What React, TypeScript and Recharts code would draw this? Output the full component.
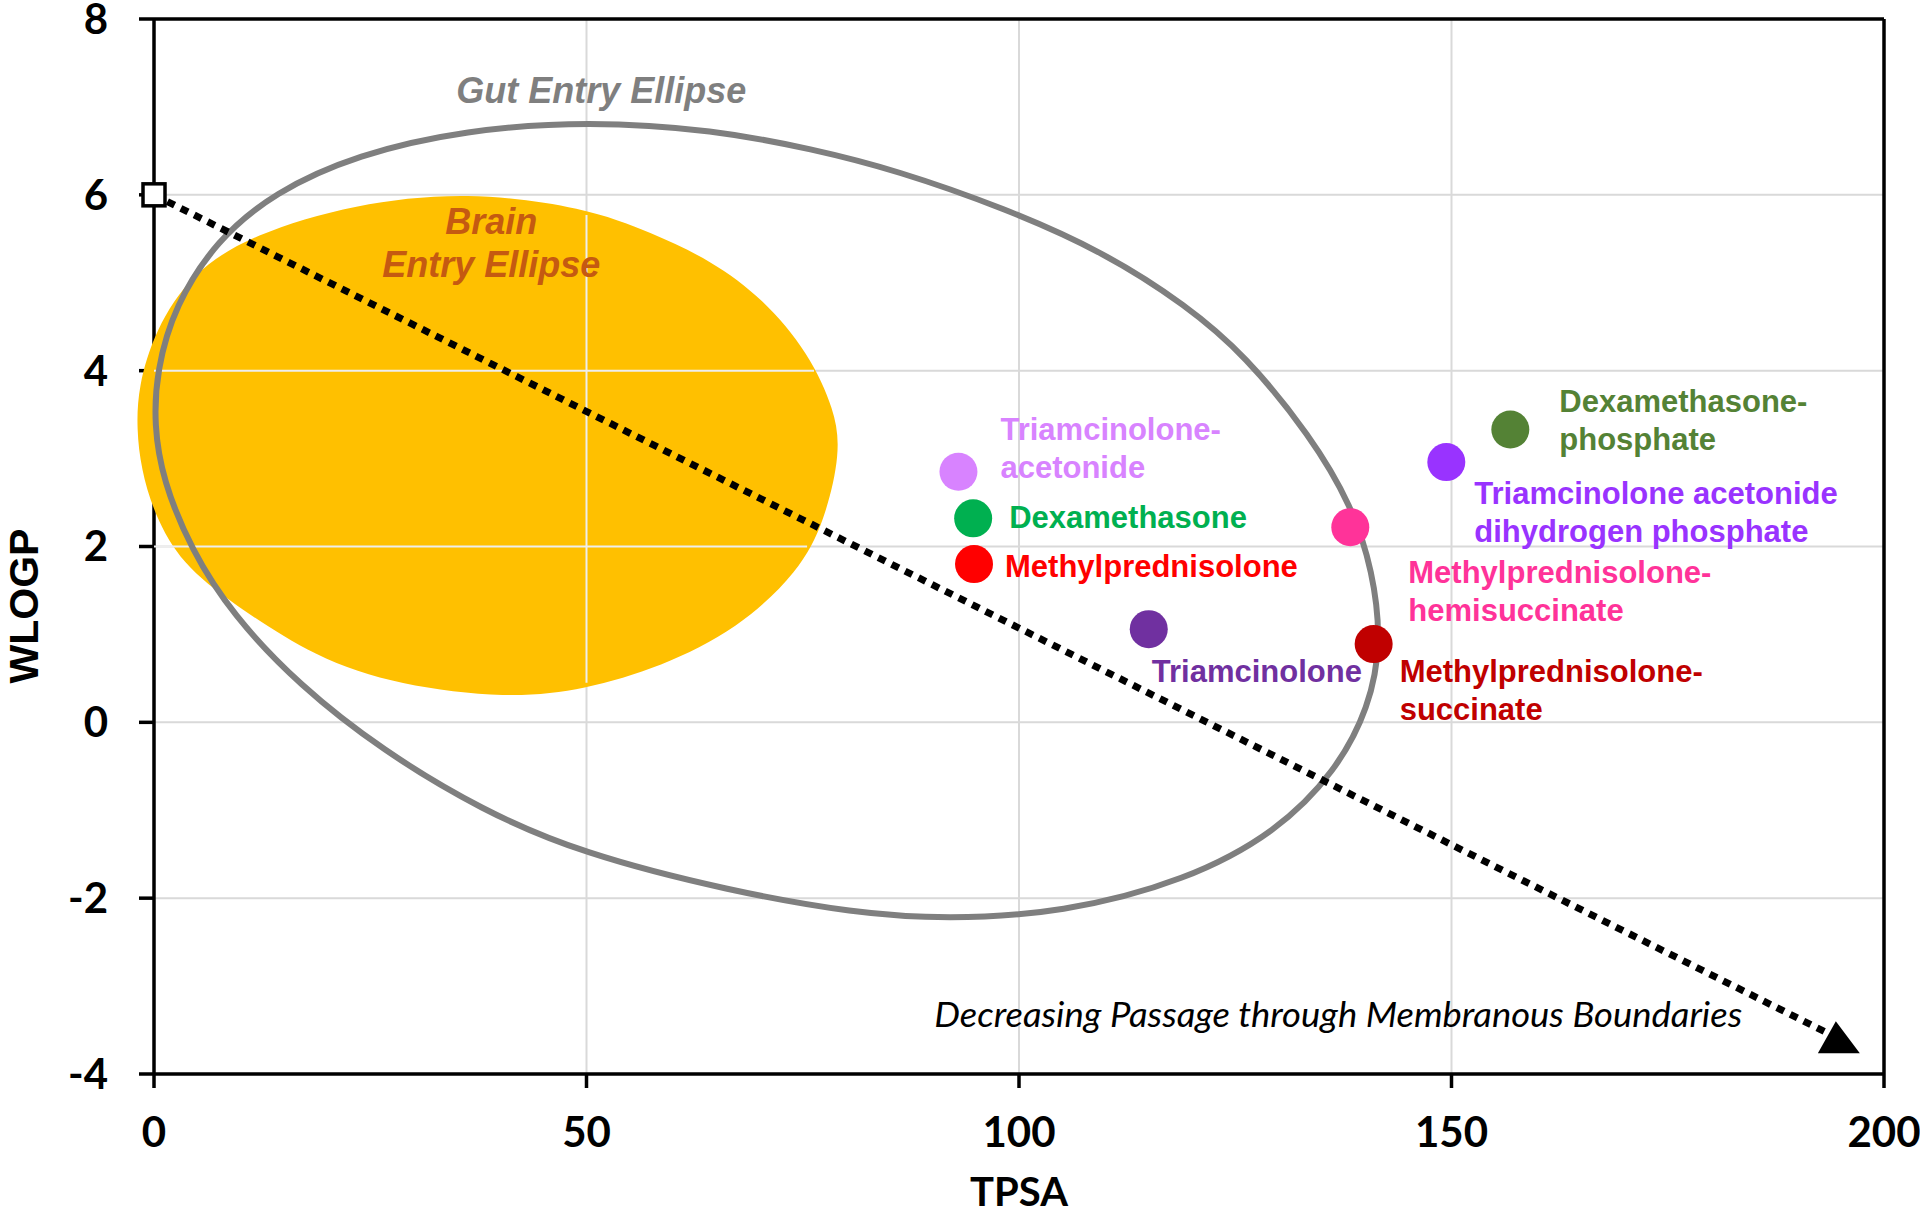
import React from 'react';
import { ScatterChart, Scatter, XAxis, YAxis, CartesianGrid, ReferenceLine } from 'recharts';

// compounds (TPSA vs WLOGP)
const compounds = [
  'Triamcinolone-acetonide',
  'Dexamethasone',
  'Methylprednisolone',
  'Triamcinolone',
  'Methylprednisolone-hemisuccinate',
  'Methylprednisolone-succinate',
  'Dexamethasone-phosphate',
  'Triamcinolone acetonide dihydrogen phosphate',
];
const tpsa = [93.0, 94.7, 94.8, 115.0, 138.3, 141.0, 156.8, 149.4];
const wlogp = [2.85, 2.32, 1.8, 1.06, 2.22, 0.89, 3.33, 2.96];
const colors = ['#D883FF', '#00B050', '#FF0000', '#7030A0', '#FF3399', '#C00000', '#548235', '#9933FF'];
const labelLines = [
  ['Triamcinolone-', 'acetonide'],
  ['Dexamethasone'],
  ['Methylprednisolone'],
  ['Triamcinolone'],
  ['Methylprednisolone-', 'hemisuccinate'],
  ['Methylprednisolone-', 'succinate'],
  ['Dexamethasone-', 'phosphate'],
  ['Triamcinolone acetonide', 'dihydrogen phosphate'],
];
// label offsets from the dot centre, px
const labelDx = [42, 36, 31, 3, 58, 26, 49, 28];
const labelDy = [-32, 10, 13, 53, 56, 38, -18, 42];

// gut entry ellipse outline (hand drawn in the original)
const gutX = [50.3, 64.7, 76.2, 85.8, 98.3, 109.8, 119.4, 126.1, 133.7, 138.5, 140.9, 141.9, 140.5, 136.6, 129.9, 119.4, 105.0, 91.6, 81.0, 66.6, 49.4, 37.9, 26.4, 16.8, 9.1, 4.3, 1.0, 0.0, 0.3, 2.4, 7.2, 13.9, 23.5, 36.0];
const gutY = [6.84, 6.74, 6.52, 6.28, 5.85, 5.35, 4.74, 4.18, 3.26, 2.46, 1.72, 0.91, 0.17, -0.56, -1.24, -1.8, -2.17, -2.24, -2.17, -1.92, -1.49, -1.0, -0.32, 0.42, 1.22, 1.96, 2.76, 3.38, 4.0, 4.74, 5.48, 6.03, 6.46, 6.74];

// brain entry ellipse outline
const brainX = [36.2, 49.8, 57.5, 64.5, 70.4, 75.7, 78.7, 79.4, 77.5, 74.6, 67.5, 58.6, 49.8, 40.9, 28.3, 18.7, 9.1, 3.2, 0.0, -1.5, -2.0, -1.85, 0.1, 4.4, 11.4, 23.2];
const brainY = [6.04, 5.86, 5.57, 5.25, 4.82, 4.2, 3.55, 3.07, 2.28, 1.72, 1.06, 0.63, 0.37, 0.27, 0.42, 0.73, 1.35, 1.8, 2.37, 2.89, 3.33, 3.81, 4.46, 5.12, 5.55, 5.9];

// grid lines seen through the brain ellipse (segment ends)
const gridInX = [[0, 76.3], [0, 75.5], [50, 50]];
const gridInY = [[4, 4], [2, 2], [5.77, 0.45]];

// dotted trend arrow
const arrowX = [0, 194.2];
const arrowY = [6, -3.57];

// free text annotations
const noteText = [['Gut Entry Ellipse'], ['Brain', 'Entry Ellipse'], ['Decreasing Passage through Membranous Boundaries']];
const noteX = [51.7, 39.0, 90.2];
const noteY = [7.04, 5.55, -3.46];

const xTicks = [0, 50, 100, 150, 200];
const yTicks = [-4, -2, 0, 2, 4, 6, 8];

const pointData = compounds.map((name, i) => ({ x: tpsa[i], y: wlogp[i], name, i }));
const gutData = gutX.map((x, i) => ({ x, y: gutY[i] }));
const brainData = brainX.map((x, i) => ({ x, y: brainY[i] }));
const gridInData = gridInX.map((xs, k) => xs.map((x, j) => ({ x, y: gridInY[k][j] })));
const arrowData = arrowX.map((x, i) => ({ x, y: arrowY[i], i }));
const noteData = noteX.map((x, i) => ({ x, y: noteY[i], i }));

const tickFont = { fontSize: 42, fontWeight: 700, fill: '#000', fontFamily: 'Lato, "Open Sans", sans-serif' };
const labelFont: React.CSSProperties = { fontSize: 31, fontWeight: 700, fontFamily: '"Liberation Sans", Arial, sans-serif' };

const Empty = () => <g />;

const PointShape = (props: any) => {
  const { cx, cy, payload } = props;
  const i = payload.i;
  const lx = cx + labelDx[i];
  return (
    <g>
      <circle cx={cx} cy={cy} r={19} fill={colors[i]} />
      <text x={lx} y={cy + labelDy[i]} fill={colors[i]} style={labelFont}>
        {labelLines[i].map((l, k) => (
          <tspan key={k} x={lx} dy={k === 0 ? 0 : 38}>{l}</tspan>
        ))}
      </text>
    </g>
  );
};

const ArrowShape = (props: any) => {
  const { cx, cy, payload } = props;
  if (payload.i === 0) {
    return <rect x={cx - 11} y={cy - 11} width={22} height={22} fill="#fff" stroke="#000" strokeWidth={3.5} />;
  }
  return <path d={`M${cx - 16},${cy + 17} L${cx + 26},${cy + 17} L${cx + 2},${cy - 15} Z`} fill="#000" />;
};

const NoteShape = (props: any) => {
  const { cx, cy, payload } = props;
  const i = payload.i;
  if (i === 2) {
    return (
      <text x={cx} y={cy} textLength={808} lengthAdjust="spacingAndGlyphs"
        style={{ fontSize: 34, fontStyle: 'italic', fontFamily: 'Lato, "Open Sans", sans-serif' }} fill="#000">
        {noteText[i][0]}
      </text>
    );
  }
  const fill = i === 0 ? '#7F7F7F' : '#C55A11';
  return (
    <text x={cx} y={cy} textAnchor="middle" fill={fill}
      style={{ fontSize: 36, fontWeight: 700, fontStyle: 'italic', fontFamily: '"Liberation Sans", Arial, sans-serif' }}>
      {noteText[i].map((l, k) => (
        <tspan key={k} x={cx} dy={k === 0 ? 0 : 43}>{l}</tspan>
      ))}
    </text>
  );
};

export default function App() {
  return (
    <div style={{ position: 'absolute', left: 0, top: 0, background: '#fff' }}>
      <ScatterChart width={1920} height={1216} margin={{ top: 19, right: 36, bottom: 0, left: 0 }}>
        <XAxis
          type="number"
          dataKey="x"
          domain={[0, 200]}
          ticks={xTicks}
          interval={0}
          height={142}
          tick={tickFont}
          tickSize={14}
          tickMargin={29}
          axisLine={{ stroke: '#000', strokeWidth: 3.5 }}
          tickLine={{ stroke: '#000', strokeWidth: 3.5 }}
        />
        <XAxis
          xAxisId="brain"
          type="number"
          dataKey="x"
          domain={[-2, 200]}
          padding={{ left: -17.3, right: 0 }}
          hide
        />
        <YAxis
          type="number"
          dataKey="y"
          domain={[-4, 8]}
          ticks={yTicks}
          interval={0}
          width={154}
          tick={tickFont}
          tickSize={15}
          tickMargin={31}
          axisLine={{ stroke: '#000', strokeWidth: 3.5 }}
          tickLine={{ stroke: '#000', strokeWidth: 3.5 }}
        />
        <CartesianGrid stroke="#D9D9D9" strokeWidth={2} />
        <Scatter
          data={brainData}
          xAxisId="brain"
          shape={Empty}
          line={{ fill: '#FFC000', stroke: 'none' }}
          lineType="joint"
          lineJointType="basisClosed"
          isAnimationActive={false}
        />
        {gridInData.map((seg, k) => (
          <Scatter
            key={'g' + k}
            data={seg}
            shape={Empty}
            line={{ stroke: '#EEEEEE', strokeWidth: 2, fill: 'none' }}
            lineType="joint"
            isAnimationActive={false}
          />
        ))}
        <ReferenceLine y={8} stroke="#000" strokeWidth={3.5} />
        <ReferenceLine x={200} stroke="#000" strokeWidth={3.5} />
        <Scatter
          data={gutData}
          shape={Empty}
          line={{ fill: 'none', stroke: '#7F7F7F', strokeWidth: 6 }}
          lineType="joint"
          lineJointType="basisClosed"
          isAnimationActive={false}
        />
        <Scatter
          data={arrowData}
          shape={ArrowShape}
          line={{ stroke: '#000', strokeWidth: 7, strokeDasharray: '8 7', fill: 'none' }}
          lineType="joint"
          isAnimationActive={false}
        />
        <Scatter data={noteData} shape={NoteShape} isAnimationActive={false} />
        <Scatter data={pointData} shape={PointShape} isAnimationActive={false} />
        <text x={1019} y={1206} textAnchor="middle" style={{ ...tickFont, fontSize: 40 }}>TPSA</text>
        <text transform="translate(38,606) rotate(-90)" textAnchor="middle"
          style={{ fontSize: 41, fontWeight: 700, fill: '#000', fontFamily: '"Liberation Sans", Arial, sans-serif' }}>WLOGP</text>
      </ScatterChart>
    </div>
  );
}
